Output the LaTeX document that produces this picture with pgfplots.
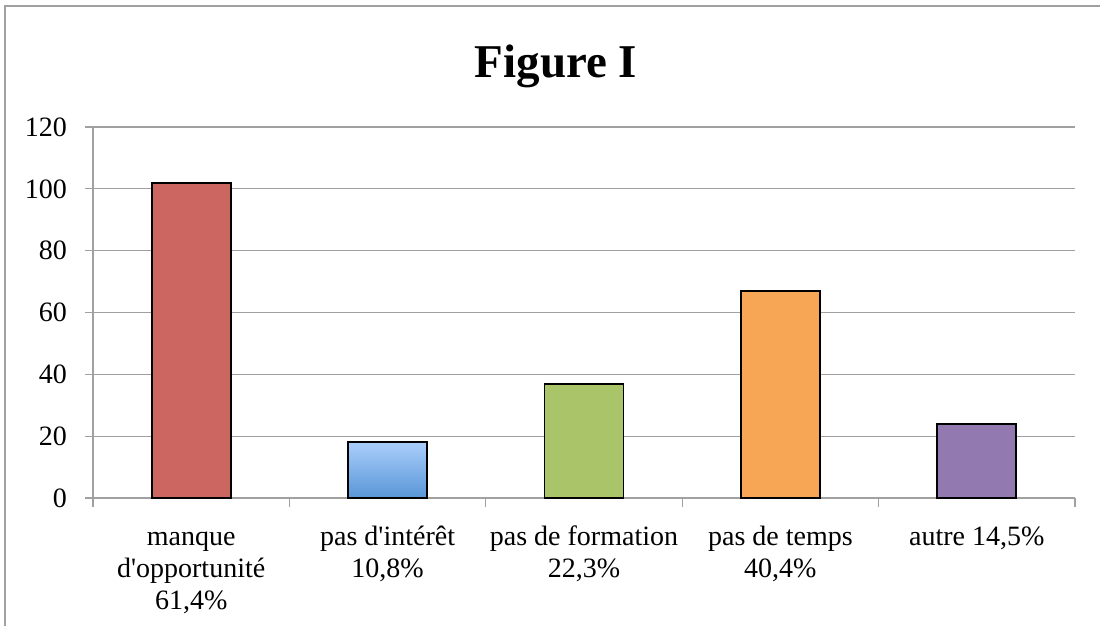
\documentclass[border=0pt]{standalone}
\usepackage{pgfplots}
\pgfplotsset{compat=1.18}
\usepackage{fontspec}
\setmainfont{Liberation Serif}
\definecolor{gridgray}{RGB}{160,160,160}
\definecolor{cred}{RGB}{204,102,96}
\definecolor{cbluetop}{RGB}{170,206,251}
\definecolor{cbluebot}{RGB}{88,150,215}
\definecolor{cgreen}{RGB}{170,196,106}
\definecolor{corange}{RGB}{247,166,86}
\definecolor{cpurple}{RGB}{146,122,176}
\newcommand{\q}{\textquotesingle}
\begin{document}
\begin{tikzpicture}
\begin{axis}[
  at={(0,0)}, anchor=south west,
  scale only axis, width=982pt, height=371pt,
  xmin=-0.5, xmax=4.5, ymin=0, ymax=120,
  ytick={0,20,...,120},
  xtick={0,1,2,3,4},
  xticklabels={{\vphantom{d}manque\\d\q opportunité\\61,4\%},
               {\vphantom{d}pas d\q intérêt\\10,8\%},
               {\vphantom{d}pas de formation\\22,3\%},
               {\vphantom{d}pas de temps\\40,4\%},
               {\vphantom{d}autre 14,5\%}},
  minor xtick={-0.5,0.5,...,4.5},
  every major x tick/.append style={draw=none},
  every minor x tick/.append style={gridgray, line width=1.3pt},
  every major y tick/.append style={gridgray, line width=1.3pt},
  major tick length=8pt, minor tick length=9pt,
  tick align=outside, tick pos=left,
  axis lines*=left,
  axis line style={gridgray, line width=1.3pt},
  ymajorgrids, grid style={gridgray, line width=1.3pt},
  /pgf/number format/assume math mode=true,
  ticklabel style={font=\fontsize{28}{32}\selectfont},
  yticklabel style={inner sep=0pt, xshift=-18pt},
  xticklabel style={align=center, anchor=north, inner sep=0pt, yshift=-20pt},
  ybar, bar width=79pt, bar shift=0pt,
]
\addplot[draw=black, line width=1.8pt, fill=cred] coordinates {(0,102)};
\addplot[draw=black, line width=1.8pt, top color=cbluetop, bottom color=cbluebot] coordinates {(1,18)};
\addplot[draw=black, line width=1.8pt, fill=cgreen] coordinates {(2,37)};
\addplot[draw=black, line width=1.8pt, fill=corange] coordinates {(3,67)};
\addplot[draw=black, line width=1.8pt, fill=cpurple] coordinates {(4,24)};
\end{axis}
\draw[gridgray, line width=1.5pt] (-88pt,-130pt) -- (-88pt,492pt) -- (1010pt,492pt);
\node[anchor=base, font=\fontsize{47}{50}\selectfont\bfseries] at (463pt,420pt) {Figure I};
\pgfresetboundingbox
\path[use as bounding box] (-93pt,-127pt) rectangle (1007pt,498pt);
\end{tikzpicture}
\end{document}
